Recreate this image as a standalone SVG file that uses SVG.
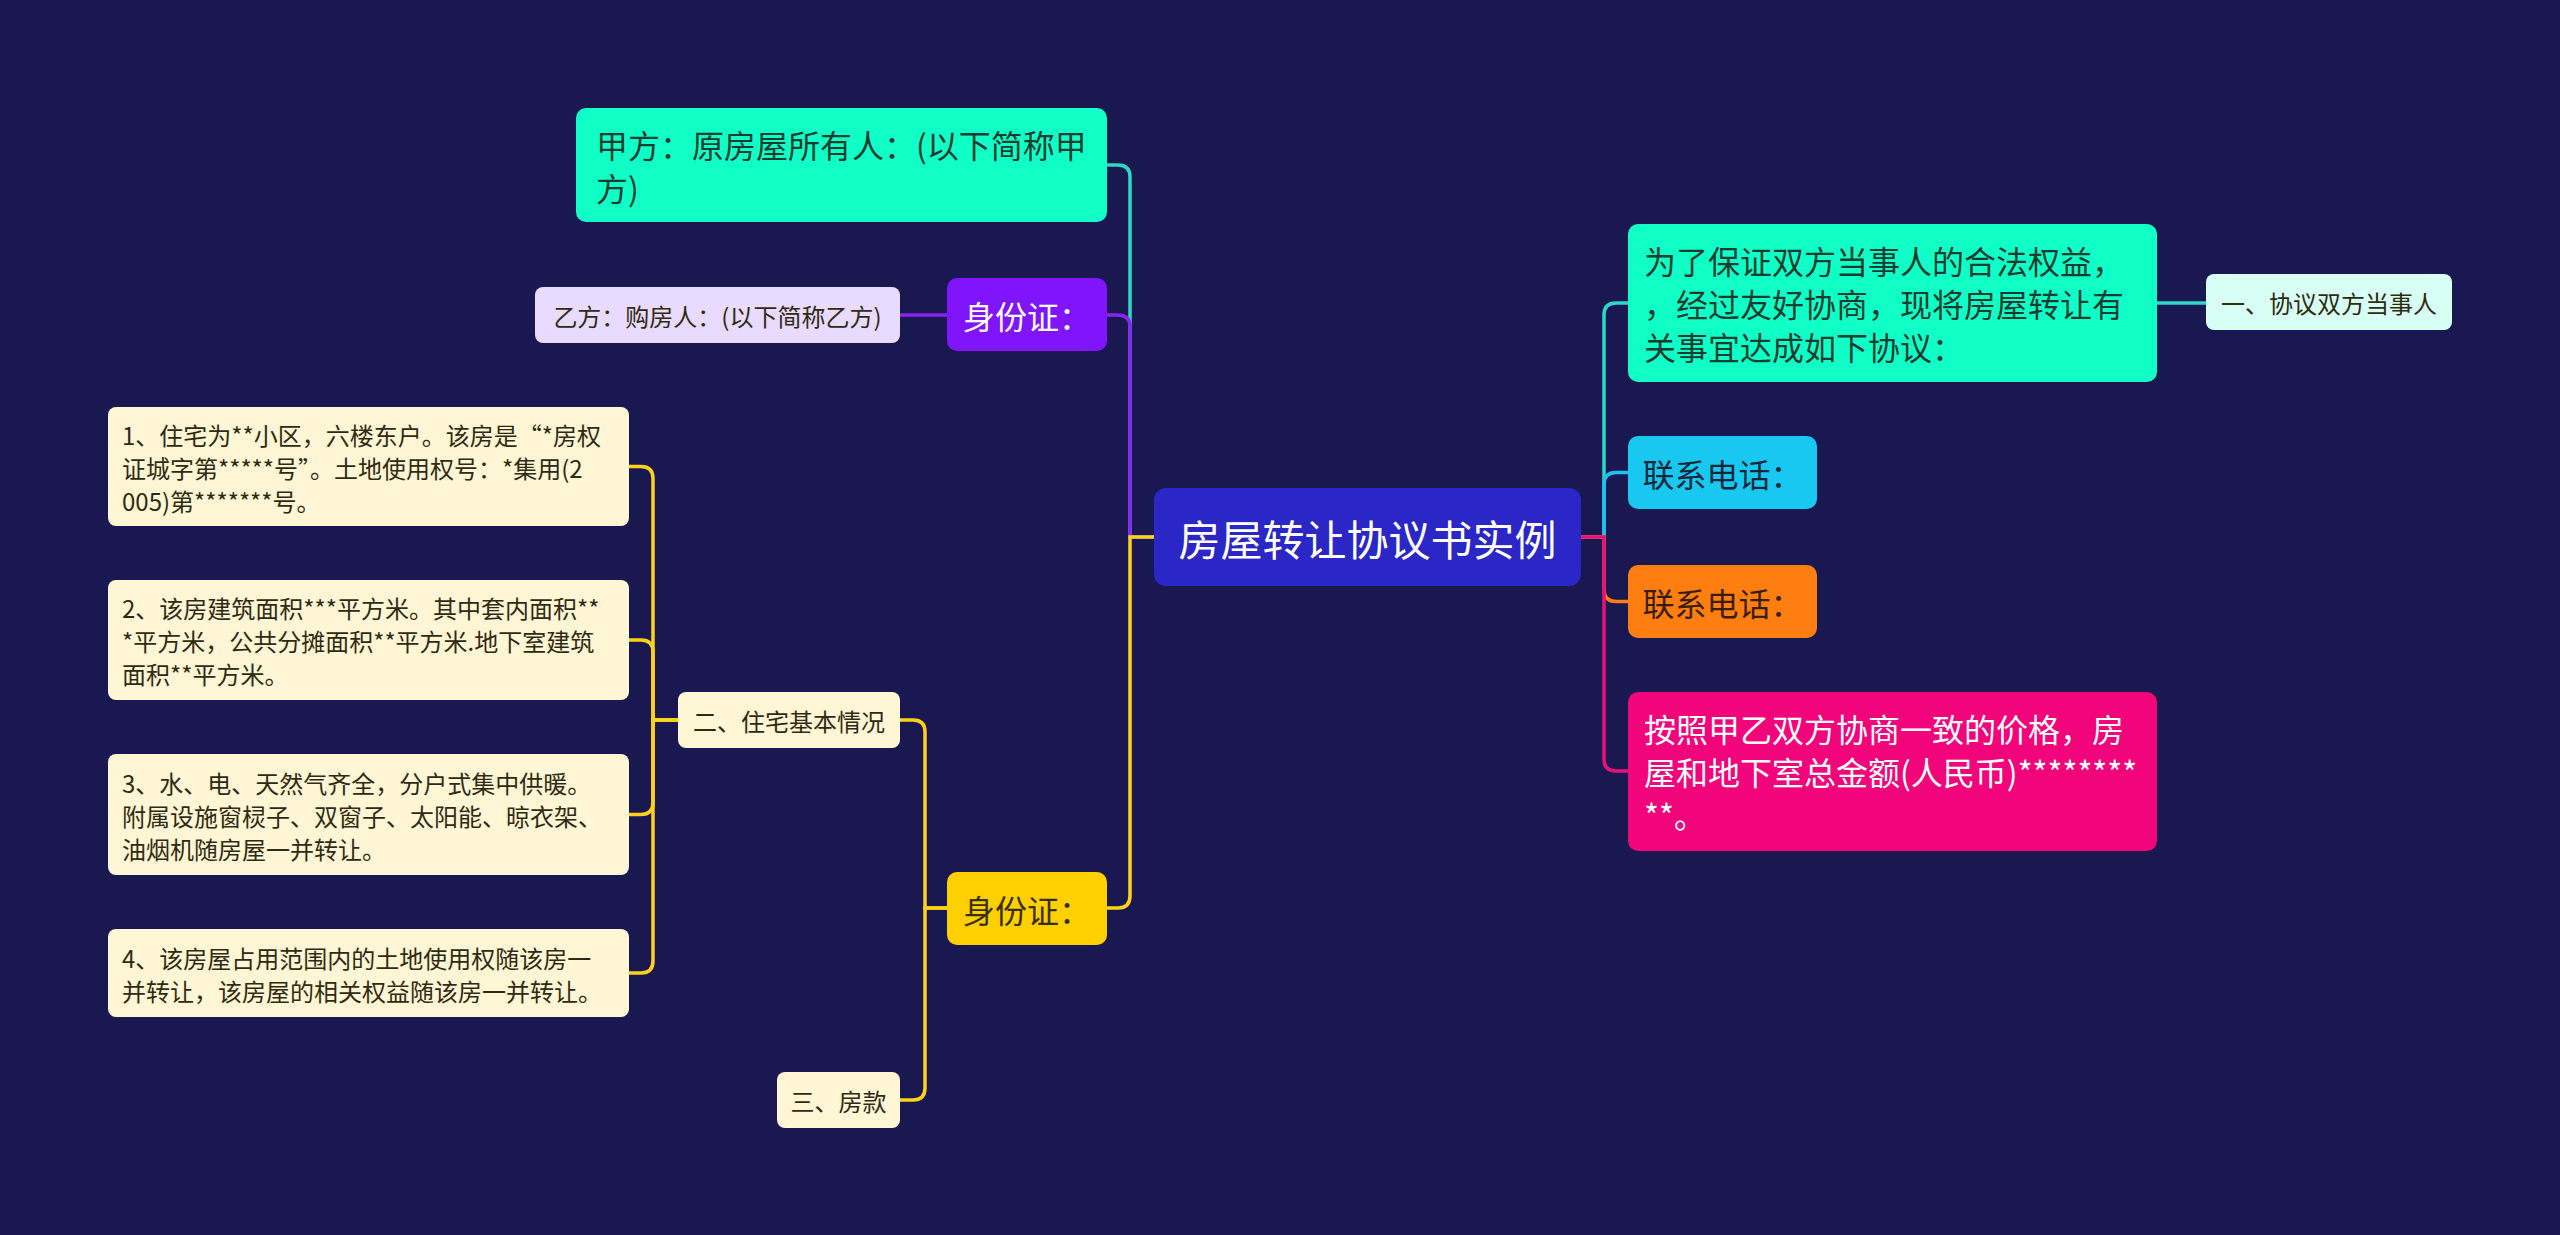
<svg xmlns="http://www.w3.org/2000/svg" width="2560" height="1235" viewBox="0 0 2560 1235">
<style>
.t{font-family:"Noto Sans CJK SC","Noto Sans",sans-serif;dominant-baseline:central}
.c{text-anchor:middle}
.s{font-size:24px;fill:#2f2b12}
.m{font-size:32px}
.ln{fill:none;stroke-width:3.5;stroke-linejoin:miter}
.cream{fill:#FFF6D5}
</style>
<rect x="0" y="0" width="2560" height="1235" fill="#1A1851"/>
<g id="connectors">
  <path class="ln" stroke="#2ED6C6" d="M1154,537 H1130 V177 Q1130,165 1118,165 H1107"/>
  <path class="ln" stroke="#8A22F0" d="M1154,537 H1130 V327 Q1130,315 1118,315 H1107"/>
  <path class="ln" stroke="#FFD21A" d="M1154,537 H1130 V896 Q1130,908 1118,908 H1107"/>
  <path class="ln" stroke="#8A22F0" d="M947,315 H900"/>
  <path class="ln" stroke="#FFD21A" d="M947,908 H925 V732 Q925,720 913,720 H900"/>
  <path class="ln" stroke="#FFD21A" d="M947,908 H925 V1088 Q925,1100 913,1100 H900"/>
  <path class="ln" stroke="#FFD21A" d="M678,720 H653 V478.5 Q653,466.5 641,466.5 H629"/>
  <path class="ln" stroke="#FFD21A" d="M678,720 H653 V652 Q653,640 641,640 H629"/>
  <path class="ln" stroke="#FFD21A" d="M678,720 H653 V802.5 Q653,814.5 641,814.5 H629"/>
  <path class="ln" stroke="#FFD21A" d="M678,720 H653 V961 Q653,973 641,973 H629"/>
  <path class="ln" stroke="#2ED6C6" d="M1581,537 H1604 V315 Q1604,303 1616,303 H1628"/>
  <path class="ln" stroke="#1EC3EC" d="M1581,537 H1604 V484.5 Q1604,472.5 1616,472.5 H1628"/>
  <path class="ln" stroke="#FF7E0F" d="M1581,537 H1604 V589.5 Q1604,601.5 1616,601.5 H1628"/>
  <path class="ln" stroke="#E8107A" d="M1581,537 H1604 V759 Q1604,771 1616,771 H1628"/>
  <path class="ln" stroke="#2ED6C6" d="M2157,303 H2206"/>
</g>
<g id="root">
  <rect x="1154" y="488" width="427" height="98" rx="12" fill="#2A27C6"/>
  <text class="t c" x="1367.5" y="537" font-size="42" fill="#ffffff">房屋转让协议书实例</text>
</g>
<g id="n-jiafang">
  <rect x="576" y="108" width="531" height="114" rx="10" fill="#10FFC6"/>
  <text class="t m" fill="#163d30"><tspan x="596" y="143.5">甲方：原房屋所有人：(以下简称甲</tspan><tspan x="596" y="186.5">方)</tspan></text>
</g>
<g id="n-id1">
  <rect x="947" y="278" width="160" height="73" rx="10" fill="#8014FA"/>
  <text class="t m c" x="1027" y="314.5" fill="#ffffff">身份证：</text>
</g>
<g id="n-yifang">
  <rect x="535" y="287" width="365" height="56" rx="8" fill="#E9DAFF"/>
  <text class="t s c" x="717.5" y="315" fill="#2a1f3d">乙方：购房人：(以下简称乙方)</text>
</g>
<g id="n-id2">
  <rect x="947" y="872" width="160" height="73" rx="10" fill="#FFD000"/>
  <text class="t m c" x="1027" y="908.5" fill="#3a2f00">身份证：</text>
</g>
<g id="n-er">
  <rect class="cream" x="678" y="692" width="222" height="56" rx="8"/>
  <text class="t s c" x="789" y="720">二、住宅基本情况</text>
</g>
<g id="n-san">
  <rect class="cream" x="777" y="1072" width="123" height="56" rx="8"/>
  <text class="t s c" x="838.5" y="1100">三、房款</text>
</g>
<g id="n-item1">
  <rect class="cream" x="108" y="407" width="521" height="119" rx="8"/>
  <text class="t s"><tspan x="122" y="434">1、住宅为**小区，六楼东户。该房是“*房权</tspan><tspan x="122" y="467">证城字第*****号”。土地使用权号：*集用(2</tspan><tspan x="122" y="500">005)第*******号。</tspan></text>
</g>
<g id="n-item2">
  <rect class="cream" x="108" y="580" width="521" height="120" rx="8"/>
  <text class="t s"><tspan x="122" y="607">2、该房建筑面积***平方米。其中套内面积**</tspan><tspan x="122" y="640">*平方米，公共分摊面积**平方米.地下室建筑</tspan><tspan x="122" y="673">面积**平方米。</tspan></text>
</g>
<g id="n-item3">
  <rect class="cream" x="108" y="754" width="521" height="121" rx="8"/>
  <text class="t s"><tspan x="122" y="781.5">3、水、电、天然气齐全，分户式集中供暖。</tspan><tspan x="122" y="814.5">附属设施窗棂子、双窗子、太阳能、晾衣架、</tspan><tspan x="122" y="847.5">油烟机随房屋一并转让。</tspan></text>
</g>
<g id="n-item4">
  <rect class="cream" x="108" y="929" width="521" height="88" rx="8"/>
  <text class="t s"><tspan x="122" y="956.5">4、该房屋占用范围内的土地使用权随该房一</tspan><tspan x="122" y="989.5">并转让，该房屋的相关权益随该房一并转让。</tspan></text>
</g>
<g id="n-weile">
  <rect x="1628" y="224" width="529" height="158" rx="10" fill="#10FFC6"/>
  <text class="t m" fill="#163d30"><tspan x="1644" y="260">为了保证双方当事人的合法权益，</tspan><tspan x="1644" y="303">，经过友好协商，现将房屋转让有</tspan><tspan x="1644" y="346">关事宜达成如下协议：</tspan></text>
</g>
<g id="n-yi">
  <rect x="2206" y="274" width="246" height="56" rx="8" fill="#D8FFF4"/>
  <text class="t s c" x="2329" y="302" fill="#163d30">一、协议双方当事人</text>
</g>
<g id="n-tel1">
  <rect x="1628" y="436" width="189" height="73" rx="10" fill="#18C8F0"/>
  <text class="t m c" x="1722.5" y="472.5" fill="#10283a">联系电话：</text>
</g>
<g id="n-tel2">
  <rect x="1628" y="565" width="189" height="73" rx="10" fill="#FF7E0F"/>
  <text class="t m c" x="1722.5" y="601.5" fill="#3a1e00">联系电话：</text>
</g>
<g id="n-price">
  <rect x="1628" y="692" width="529" height="159" rx="10" fill="#F2047A"/>
  <text class="t m" fill="#ffffff"><tspan x="1644" y="728">按照甲乙双方协商一致的价格，房</tspan><tspan x="1644" y="771">屋和地下室总金额(人民币)********</tspan><tspan x="1644" y="814">**。</tspan></text>
</g>
</svg>
